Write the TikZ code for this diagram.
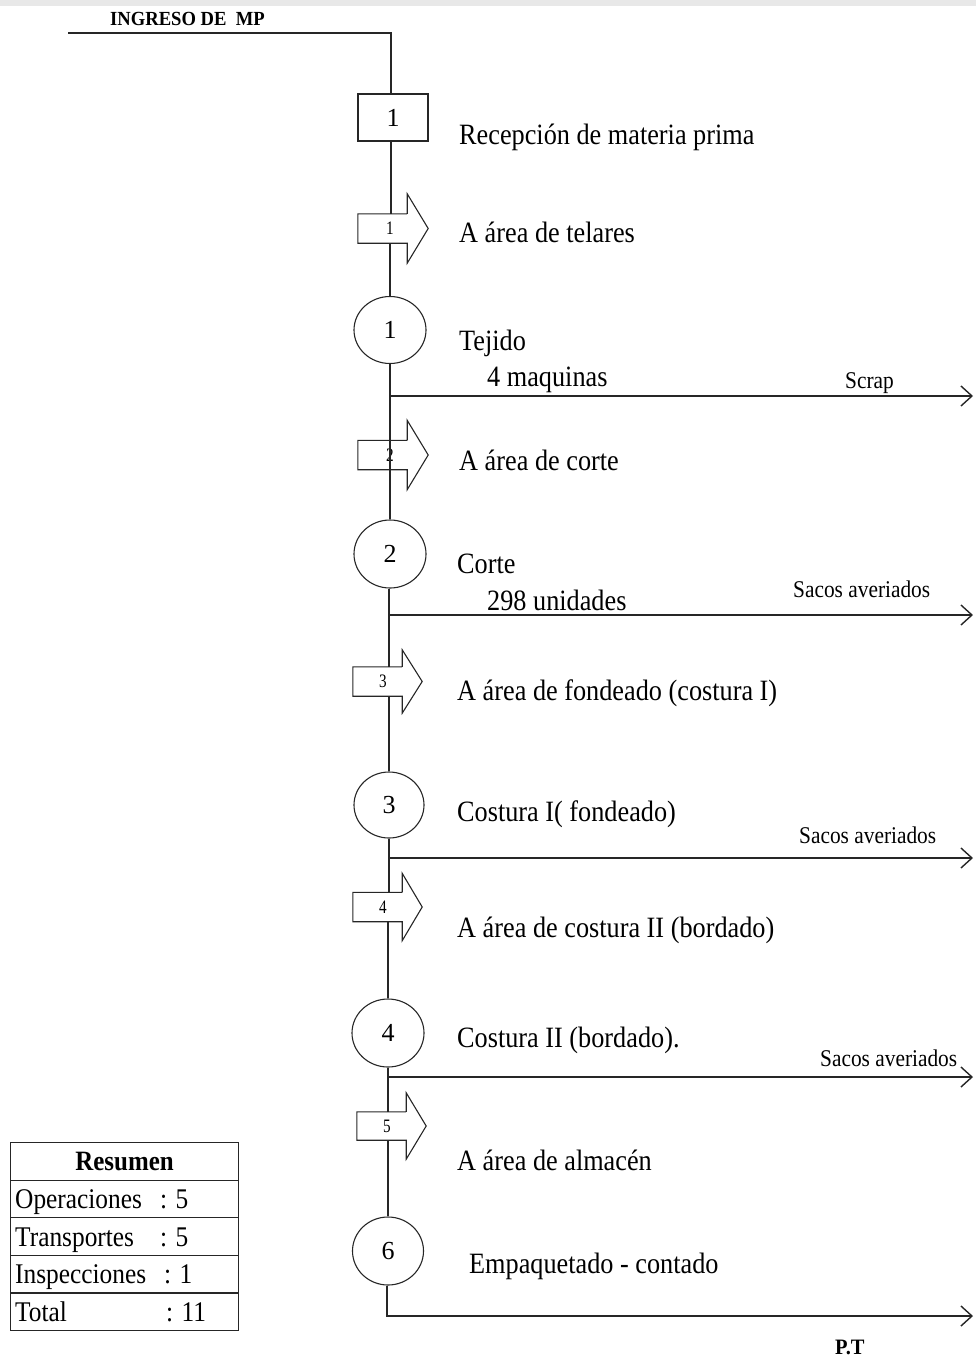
\documentclass[tikz,border=0pt]{standalone}
\usepackage{fontspec}
\setmainfont{Liberation Serif}
\usetikzlibrary{shapes.geometric,arrows.meta,calc}
\newcommand\fsz[1]{\fontsize{#1}{#1}\selectfont}
% narrow setting of a text run
\newcommand\nx[2][0.89]{\scalebox{#1}[1]{#2}}

\begin{document}
\begin{tikzpicture}[x=1pt,y=-1pt,
  flow/.style={line width=1.4pt,draw=black!85},
  outarrow/.style={flow,-{Straight Barb[length=11pt,width=20pt,line width=1.4pt]}},
  shapeline/.style={line width=1.1pt,draw=black!85},
  opnode/.style={ellipse,shapeline,minimum width=72pt,minimum height=67pt,inner sep=0pt,font=\fsz{26}},
  inspbox/.style={rectangle,shapeline,minimum width=70pt,minimum height=47pt,inner sep=0pt,font=\fsz{26}},
  tbody/.style={rectangle,minimum width=49pt,minimum height=29pt,inner sep=0pt},
  tnum/.style={inner sep=0pt,font=\fsz{19}},
  lbl/.style={anchor=base west,inner sep=0pt,font=\fsz{29.5}},
  small/.style={anchor=base west,inner sep=0pt,font=\fsz{24}},
  rowbox/.style={rectangle,shapeline,minimum width=228pt,minimum height=37.6pt,inner sep=0pt,anchor=north west},
  rowtxt/.style={anchor=base west,inner sep=0pt,font=\fsz{28.5}}
]
\useasboundingbox (0,0) rectangle (976,1358);
% faint shade along the upper edge
\fill[black!9] (0,0) rectangle (976,6);

% transport symbol: body rectangle plus open arrow head
\newcommand\transportshape[3]{%
  \draw[shapeline,line join=miter] (#1.north east) -- ++(0,-#2) -- ($(#1.east)+(#3,0)$)
     -- ($(#1.south east)+(0,#2)$) -- (#1.south east) -- (#1.south west)
     -- (#1.north west) -- (#1.north east);}

% ---------- symbols ----------
\node[inspbox] (b1) at (393,117.5) {1};
\node[tbody,label={[tnum,xshift=7.5pt]center:\nx[0.8]{1}}] (t1) at (382.5,228.5) {};
\transportshape{t1}{20}{21}
\node[opnode] (c1) at (390,330) {1};
\coordinate (j1) at (390,396);
\node[tbody,label={[tnum,xshift=7.5pt]center:\nx[0.8]{2}}] (t2) at (382.5,455) {};
\transportshape{t2}{20}{21}
\node[opnode,minimum height=68pt] (c2) at (390,554) {2};
\coordinate (j2) at (389,615);
\node[tbody,label={[tnum,xshift=5.5pt]center:\nx[0.8]{3}}] (t3) at (377.5,681.5) {};
\transportshape{t3}{17}{20}
\node[opnode,minimum width=70pt,minimum height=66pt] (c3) at (389,805) {3};
\coordinate (j3) at (389,858);
\node[tbody,label={[tnum,xshift=5.5pt]center:\nx[0.8]{4}}] (t4) at (377.5,907) {};
\transportshape{t4}{19}{20}
\node[opnode,minimum height=68pt] (c4) at (388,1033) {4};
\coordinate (j4) at (388,1077);
\node[tbody,minimum height=28pt,label={[tnum,xshift=5.5pt]center:\nx[0.8]{5}}] (t5) at (381.5,1126) {};
\transportshape{t5}{19}{20}
\node[opnode,minimum width=71pt,minimum height=68pt] (c6) at (388,1251) {6};
\coordinate (k6) at (387,1316);

% ---------- main flow line ----------
\coordinate (mp0) at (68,33);
\coordinate (mp1) at (391,33);
\draw[flow] (mp0) -- (mp1) -- (b1.north -| mp1);
\draw[flow] (b1.south -| mp1) -- (mp1 |- t1.north);
\draw[flow] (c1.north |- t1.south) -- (c1.north);
\draw[flow] (c1.south) -- (j1) -- (j1 |- c2.north);
\draw[flow] (c2.south -| j2) -- (j2) -- (j2 |- t3.north);
\draw[flow] (c3.north |- t3.south) -- (c3.north);
\draw[flow] (c3.south) -- (j3) -- (j3 |- t4.north);
\draw[flow] (c4.north |- t4.south) -- (c4.north);
\draw[flow] (c4.south) -- (j4) -- (j4 |- t5.north);
\draw[flow] (c6.north |- t5.south) -- (c6.north);

% ---------- side outputs ----------
\coordinate (e1) at (973,396);
\coordinate (e2) at (973,615);
\coordinate (e3) at (973,858);
\coordinate (e4) at (973,1077);
\coordinate (e5) at (973,1316);
\draw[outarrow] (j1) -- (e1);
\draw[outarrow] (j2) -- (e2);
\draw[outarrow] (j3) -- (e3);
\draw[outarrow] (j4) -- (e4);
\draw[outarrow] (c6.south -| k6) -- (k6) -- (e5);

% ---------- texts ----------
\node[anchor=base west,inner sep=0pt,font=\fsz{20}\bfseries] (ing) at (110,25) {\nx[0.93]{INGRESO DE\ \ MP}};
\node[lbl] (l1) at (459,144) {\nx{Recepción de materia prima}};
\node[lbl] (l2) at (459,242) {\nx{A área de telares}};
\node[lbl] (l3) at (459,350) {\nx{Tejido}};
\node[lbl] (l3b) at (487,386) {\nx{4 maquinas}};
\node[small] (s1) at (845,388) {\nx[0.89]{Scrap}};
\node[lbl] (l4) at (459,470) {\nx{A área de corte}};
\node[lbl] (l5) at (457,573) {\nx{Corte}};
\node[lbl] (l5b) at (487,610) {\nx{298 unidades}};
\node[small] (s2) at (793,597) {\nx[0.89]{Sacos averiados}};
\node[lbl] (l6) at (457,700) {\nx{A área de fondeado (costura I)}};
\node[lbl] (l7) at (457,821) {\nx{Costura I( fondeado)}};
\node[small] (s3) at (799,843) {\nx[0.89]{Sacos averiados}};
\node[lbl] (l8) at (457,937) {\nx{A área de costura II (bordado)}};
\node[lbl] (l9) at (457,1047) {\nx{Costura II (bordado).}};
\node[small] (s4) at (820,1066) {\nx[0.89]{Sacos averiados}};
\node[lbl] (l10) at (457,1170) {\nx{A área de almacén}};
\node[lbl] (l11) at (469,1273) {\nx{Empaquetado - contado}};
\node[anchor=base west,inner sep=0pt,font=\fsz{22}\bfseries] (pt) at (835,1354) {\nx[0.93]{P.T}};

% ---------- summary table ----------
\node[rowbox] (r0) at (10,1142) {};
\node[rowbox] (r1) at (10,1179.6) {};
\node[rowbox] (r2) at (10,1217.2) {};
\node[rowbox] (r3) at (10,1254.8) {};
\node[rowbox] (r4) at (10,1292.4) {};
\node[anchor=base,inner sep=0pt,font=\fsz{28}\bfseries] (h0) at (r0.center |- 0,1170) {\nx{Resumen}};
\node[rowtxt] (n1) at (15,1208) {\nx{Operaciones}};
\node[rowtxt] (v1) at (160,1208) {\nx{: 5}};
\node[rowtxt] (n2) at (15,1246) {\nx{Transportes}};
\node[rowtxt] (v2) at (160,1246) {\nx{: 5}};
\node[rowtxt] (n3) at (15,1283) {\nx{Inspecciones}};
\node[rowtxt] (v3) at (164,1283) {\nx{: 1}};
\node[rowtxt] (n4) at (15,1321) {\nx{Total}};
\node[rowtxt] (v4) at (166,1321) {\nx{: 11}};
\end{tikzpicture}
\end{document}
